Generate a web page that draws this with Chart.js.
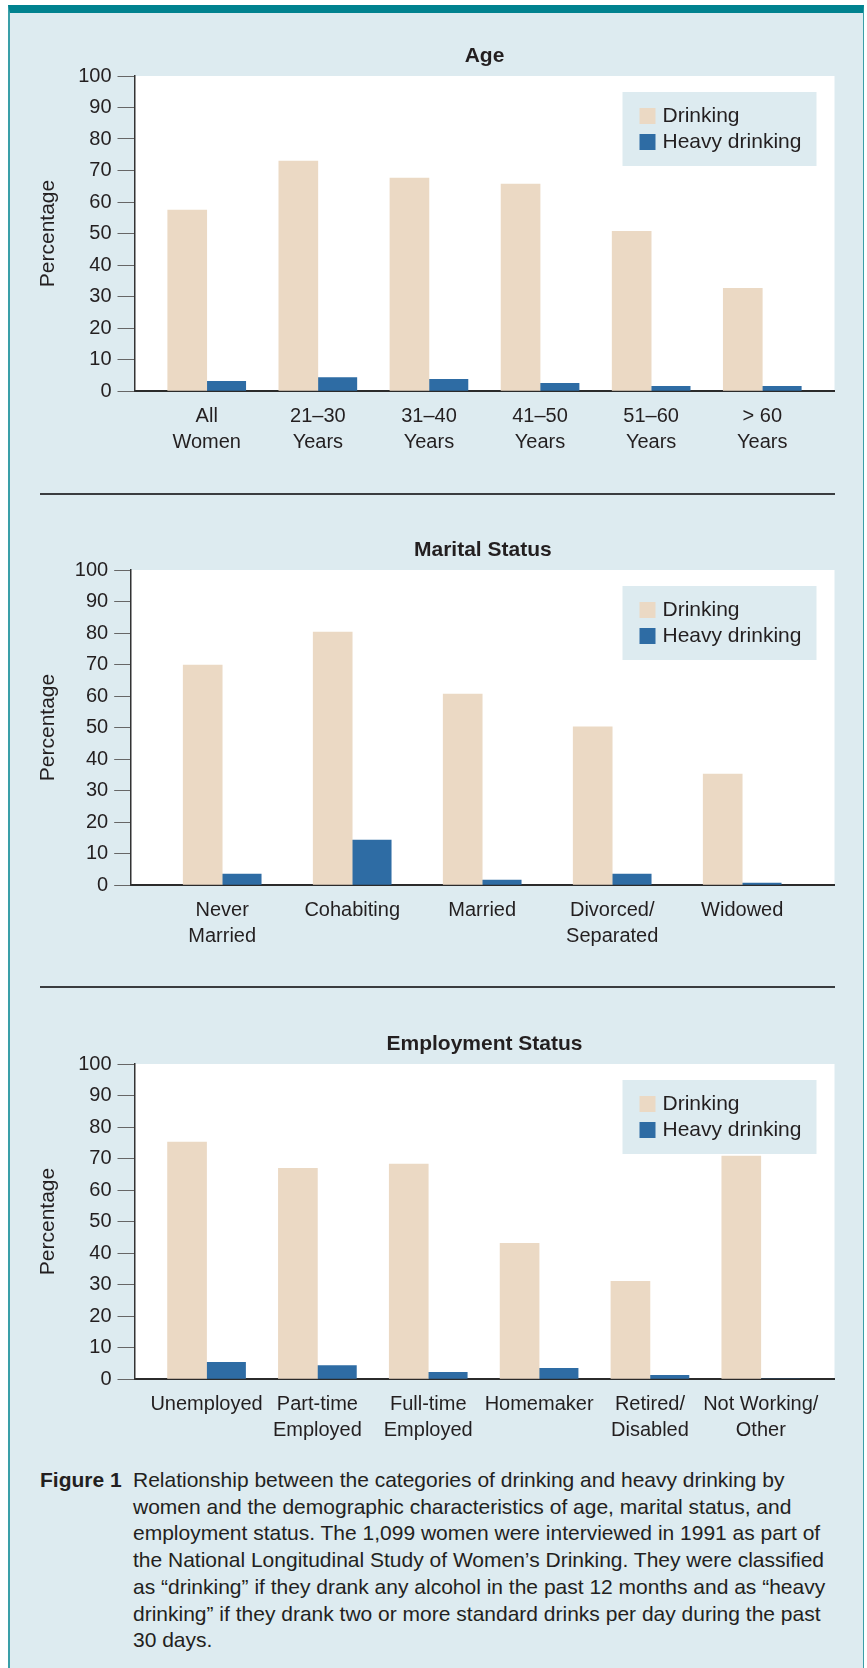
<!DOCTYPE html>
<html>
<head>
<meta charset="utf-8">
<script src="https://cdn.jsdelivr.net/npm/chart.js@4.4.1/dist/chart.umd.min.js"></script>
<style>
  body { margin: 0; background: #fff; width: 867px; height: 1668px; position: relative; overflow: hidden;
         font-family: 'Liberation Sans', Arial, sans-serif; color: #231f20; }
  .panel { position: absolute; left: 8px; top: 5px; width: 856px; height: 1663px; box-sizing: border-box;
           background: #ddebf0; border-top: 8px solid #00828f; border-left: 2px solid #3a9fa8; border-right: 1px solid #3a9fa8; }
  .plot { position: absolute; left: 0; width: 867px; height: 460px; }
  .sep { position: absolute; left: 40px; width: 795px; height: 2px; background: #3a3d40; }
  .caption { position: absolute; left: 40px; top: 1467px; font-size: 21px; line-height: 26.7px; white-space: nowrap; }
  .caption b { position: absolute; left: 0; top: 0; }
  .caption div { position: absolute; left: 93px; top: 0; }
</style>
</head>
<body>
<div class="panel"></div>
<div class="plot" style="top:20px"><canvas id="ageChart" width="867" height="460"></canvas></div>
<div class="sep" style="top:493px"></div>
<div class="plot" style="top:500px"><canvas id="maritalChart" width="867" height="460"></canvas></div>
<div class="sep" style="top:986px"></div>
<div class="plot" style="top:990px"><canvas id="employChart" width="867" height="460"></canvas></div>
<div class="caption">
  <b>Figure 1</b>
  <div>Relationship between the categories of drinking and heavy drinking by<br>
women and the demographic characteristics of age, marital status, and<br>
employment status. The 1,099 women were interviewed in 1991 as part of<br>
the National Longitudinal Study of Women’s Drinking. They were classified<br>
as “drinking” if they drank any alcohol in the past 12 months and as “heavy<br>
drinking” if they drank two or more standard drinks per day during the past<br>
30 days.</div>
</div>

<script>
const ageLabels = [['All', 'Women'], ['21–30', 'Years'], ['31–40', 'Years'], ['41–50', 'Years'], ['51–60', 'Years'], ['> 60', 'Years']];
const ageDrinking = [57.4, 73.0, 67.6, 65.7, 50.7, 32.6];
const ageHeavy = [3.1, 4.3, 3.7, 2.4, 1.5, 1.5];

const maritalLabels = [['Never', 'Married'], 'Cohabiting', 'Married', ['Divorced/', 'Separated'], 'Widowed'];
const maritalDrinking = [69.8, 80.3, 60.6, 50.2, 35.2];
const maritalHeavy = [3.5, 14.3, 1.6, 3.5, 0.6];

const employLabels = ['Unemployed', ['Part-time', 'Employed'], ['Full-time', 'Employed'], 'Homemaker', ['Retired/', 'Disabled'], ['Not Working/', 'Other']];
const employDrinking = [75.2, 66.9, 68.2, 43.1, 31.0, 70.8];
const employHeavy = [5.3, 4.3, 2.1, 3.4, 1.2, 0];

const seriesNames = ['Drinking', 'Heavy drinking'];

const FONT = "'Liberation Sans', Arial, sans-serif";
const TEXT = '#231f20';
const BEIGE = '#ebd9c4';
const BLUE = '#2e6ca4';
const PANEL = '#ddebf0';

// white plot background, panel title and the legend box inside the plot
const panelDecor = {
  id: 'panelDecor',
  beforeDraw(chart) {
    const { ctx, chartArea: a } = chart;
    ctx.save();
    ctx.fillStyle = '#fff';
    ctx.fillRect(a.left, a.top, a.right - a.left, a.bottom - a.top);
    ctx.restore();
  },
  afterDraw(chart, args, opts) {
    const { ctx, chartArea: a } = chart;
    ctx.save();
    ctx.fillStyle = TEXT;
    ctx.font = 'bold 21px ' + FONT;
    ctx.textAlign = 'center';
    ctx.textBaseline = 'middle';
    ctx.fillText(opts.text, (a.left + a.right) / 2, a.top - 20);

    const w = 194, h = 74;
    const x = a.right - 18 - w, y = a.top + 16;
    ctx.fillStyle = PANEL;
    ctx.fillRect(x, y, w, h);
    ctx.font = '21px ' + FONT;
    ctx.textAlign = 'left';
    chart.data.datasets.forEach((ds, i) => {
      ctx.fillStyle = ds.backgroundColor;
      ctx.fillRect(x + 17, y + 16 + i * 26, 16, 16);
      ctx.fillStyle = TEXT;
      ctx.fillText(ds.label, x + 40, y + 24 + i * 26);
    });
    ctx.restore();
  }
};

function drawChart(id, title, labels, drinking, heavy, box) {
  new Chart(document.getElementById(id), {
    type: 'bar',
    data: {
      labels: labels,
      datasets: [
        { label: seriesNames[0], data: drinking, backgroundColor: BEIGE, barThickness: 39 },
        { label: seriesNames[1], data: heavy, backgroundColor: BLUE, barThickness: 39 }
      ]
    },
    options: {
      responsive: false,
      animation: false,
      layout: { padding: { top: box.top, right: 32.5, bottom: 460 - box.bottom - 70, left: 0 } },
      plugins: {
        legend: { display: false },
        tooltip: { enabled: false },
        panelDecor: { text: title }
      },
      scales: {
        x: {
          z: 1,
          grid: { display: false, drawTicks: false },
          border: { color: '#2b2b2b', width: 2 },
          ticks: { color: TEXT, font: { family: FONT, size: 20, lineHeight: 1.3 }, padding: 12, maxRotation: 0, autoSkip: false },
          afterFit: s => { s.height = 70; },
          // leave some room between the axis ends and the first/last group
          afterBuildTicks: s => { s._startValue -= box.padL; s._valueRange += box.padL + box.padR; }
        },
        y: {
          min: 0,
          max: 100,
          ticks: { stepSize: 10, color: TEXT, font: { family: FONT, size: 20 }, padding: 6 },
          grid: { drawOnChartArea: false, drawTicks: true, tickLength: 17, color: '#666', lineWidth: 1 },
          border: { color: '#333', width: 1.5 },
          title: { display: true, text: 'Percentage', color: TEXT, font: { family: FONT, size: 21 }, padding: { top: 36, bottom: 0 } },
          afterFit: s => { s.width = box.left; }
        }
      }
    },
    plugins: [panelDecor]
  });
}

drawChart('ageChart', 'Age', ageLabels, ageDrinking, ageHeavy, { top: 56, bottom: 371, left: 134.5, padL: 0.15, padR: 0.15 });
drawChart('maritalChart', 'Marital Status', maritalLabels, maritalDrinking, maritalHeavy, { top: 70, bottom: 385, left: 131.2, padL: 0.2, padR: 0.21 });
drawChart('employChart', 'Employment Status', employLabels, employDrinking, employHeavy, { top: 74, bottom: 389, left: 134.5, padL: 0.15, padR: 0.165 });
</script>
</body>
</html>
